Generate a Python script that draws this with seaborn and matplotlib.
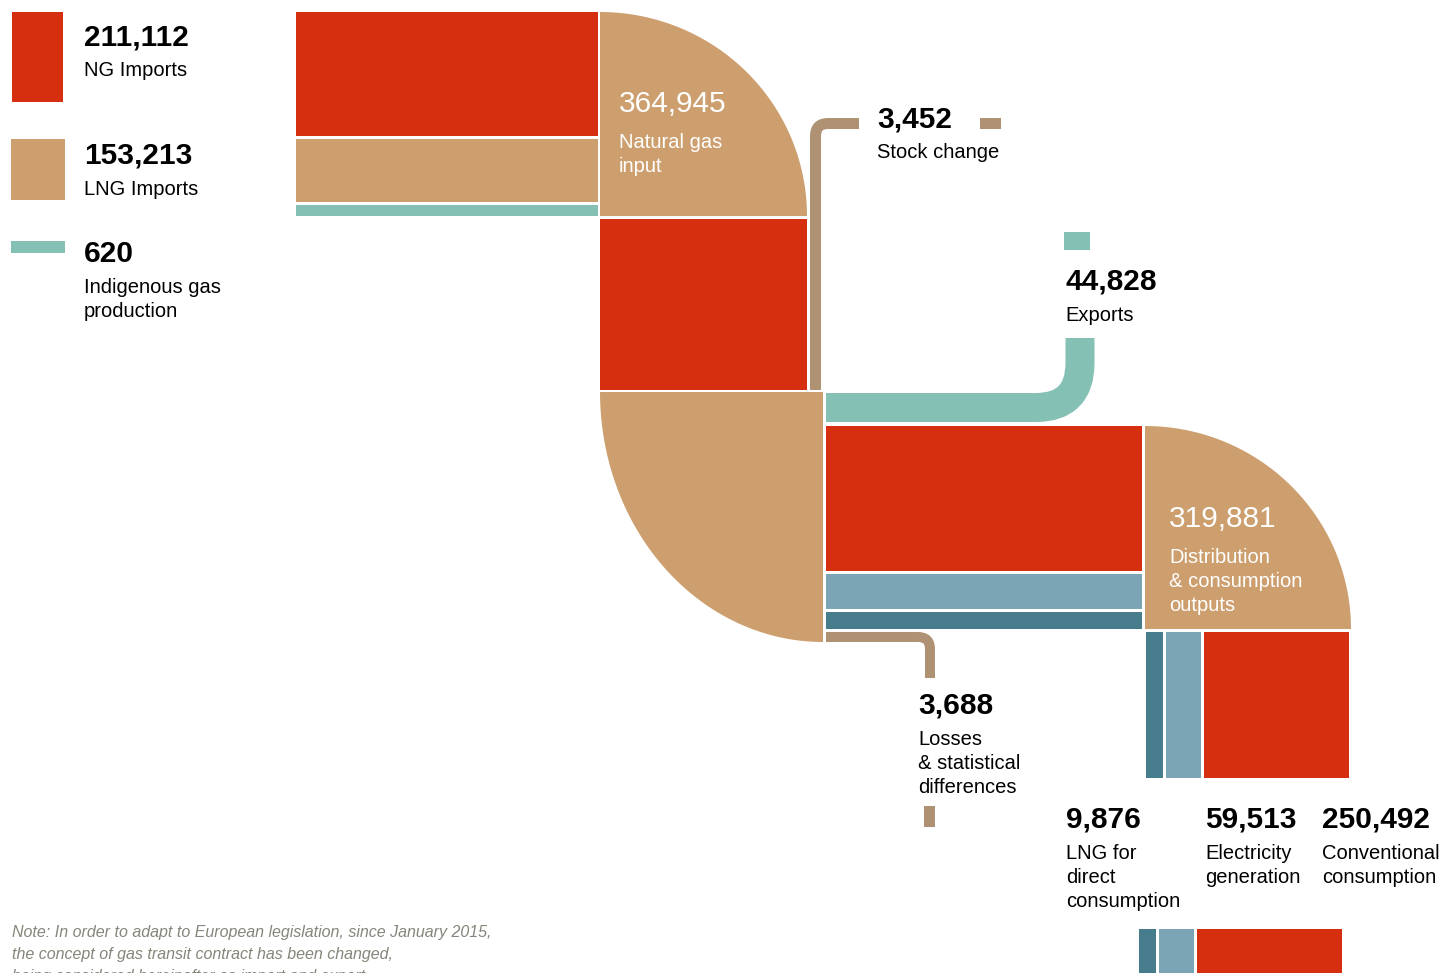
"""
    Natural gas balance diagram (input -> distribution & consumption outputs)
"""
import numpy as np
import matplotlib.pyplot as plt
from matplotlib.patches import Rectangle, Polygon, PathPatch
from matplotlib.path import Path
import seaborn as sns

# ---- data -------------------------------------------------------------------
input_values = [211112, 153213, 620]
input_labels = ["NG Imports", "LNG Imports", "Indigenous gas\nproduction"]
total_input = 364945
total_input_label = "Natural gas\ninput"
stock_change = 3452
stock_label = "Stock change"
exports = 44828
exports_label = "Exports"
losses = 3688
losses_label = "Losses\n& statistical\ndifferences"
total_output = 319881
total_output_label = "Distribution\n& consumption\noutputs"
output_values = [9876, 59513, 250492]
output_labels = ["LNG for\ndirect\nconsumption", "Electricity\ngeneration", "Conventional\nconsumption"]
note_lines = [
    "Note: In order to adapt to European legislation, since January 2015,",
    "the concept of gas transit contract has been changed,",
    "being considered hereinafter as import and export.",
]

# ---- style ------------------------------------------------------------------
RED = "#d52f10"
TAN = "#cd9f6f"
TEAL = "#84c0b4"
TAUPE = "#af9274"
LBLUE = "#7ba4b4"
DTEAL = "#467c8c"
NOTE_C = "#85857a"
input_colors = [RED, TAN, TEAL]
output_colors = [DTEAL, LBLUE, RED]

NUM_SIZE = 21.5     # bold numbers
LAB_SIZE = 14.5     # labels
LINE_PX = 24        # label line spacing, pixels
DPI = 100

sns.set_theme(style="white")
plt.rcParams['font.family'] = ['Liberation Sans', 'DejaVu Sans']


def fmt(v):
    return f"{v:,}"


def rect(ax, x0, y0, x1, y1, color):
    ax.add_patch(Rectangle((x0, y0), x1 - x0, y1 - y0, facecolor=color, edgecolor="none"))


def quarter(ax, cx, cy, rx, ry, sx, sy, color):
    # sx, sy: direction of the arc's quadrant (+1/-1), y grows downward
    t = np.linspace(0, np.pi / 2, 80)
    pts = [(cx, cy)] + [(cx + sx * rx * np.cos(a), cy + sy * ry * np.sin(a)) for a in t]
    ax.add_patch(Polygon(pts, closed=True, facecolor=color, edgecolor="none"))


def pipe(ax, verts, width_px, color):
    codes = [Path.MOVETO, Path.LINETO, Path.CURVE3, Path.CURVE3, Path.LINETO]
    ax.add_patch(PathPatch(Path(verts, codes), facecolor="none", edgecolor=color,
                           lw=width_px * 72 / DPI, capstyle="butt", joinstyle="round"))


def label(ax, x, y_num, num, text, color="black", num_weight="bold", gap=31):
    ax.text(x, y_num, num, fontsize=NUM_SIZE, fontweight=num_weight, color=color, va="baseline")
    for k, line in enumerate(text.split("\n")):
        ax.text(x, y_num + gap + k * LINE_PX, line, fontsize=LAB_SIZE, color=color, va="baseline")


fig = plt.figure(figsize=(14.48, 9.73), dpi=DPI)
ax = fig.add_axes([0, 0, 1, 1])
ax.set_xlim(0, 1448)
ax.set_ylim(973, 0)
ax.axis("off")

# ---- legend (inputs) ----------------------------------------------------------
legend_boxes = [(12, 12, 63, 102), (11, 139, 65, 200), (11, 241, 65, 253)]
legend_base = [45, 164, 262]
for (x0, y0, x1, y1), c, yb, v, lab in zip(legend_boxes, input_colors, legend_base,
                                          input_values, input_labels):
    rect(ax, x0, y0, x1, y1, c)
    label(ax, 84, yb, fmt(v), lab)

# ---- input stack + first quarter ---------------------------------------------
input_rows = [(12, 136), (139, 202), (205, 216)]
for (y0, y1), c in zip(input_rows, input_colors):
    rect(ax, 296, y0, 598, y1, c)
quarter(ax, 600, 216, 207, 204, 1, -1, TAN)
label(ax, 619, 112, fmt(total_input), total_input_label, color="white",
      num_weight="normal", gap=36)

rect(ax, 600, 219, 807, 390, RED)

# stock change
pipe(ax, [(815.5, 390), (815.5, 136), (815.5, 123.5), (828, 123.5), (859, 123.5)], 11, TAUPE)
rect(ax, 980, 118, 1001, 129, TAUPE)
label(ax, 877, 127, fmt(stock_change), stock_label)

# lower quarter
quarter(ax, 823, 392, 223, 250, -1, 1, TAN)

# exports
pipe(ax, [(826, 407.5), (1036, 407.5), (1080, 407.5), (1080, 363), (1080, 338)], 29, TEAL)
rect(ax, 1064, 232, 1090, 250, TEAL)
label(ax, 1065, 290, fmt(exports), exports_label)

# middle strip
mid_rows = [(426, 571), (574, 609), (612, 629)]
for (y0, y1), c in zip(mid_rows, [RED, LBLUE, DTEAL]):
    rect(ax, 826, y0, 1142, y1, c)

# losses
pipe(ax, [(826, 637), (918, 637), (930, 637), (930, 649), (930, 678)], 10, TAUPE)
rect(ax, 924, 806, 935, 827, TAUPE)
label(ax, 918, 714, fmt(losses), losses_label)

# output quarter
quarter(ax, 1145, 629, 206, 203, 1, -1, TAN)
label(ax, 1169, 527, fmt(total_output), total_output_label, color="white",
      num_weight="normal", gap=36)

# outputs
out_cols = [(1146, 1163), (1166, 1201), (1204, 1349)]
out_marks = [(1139, 1156), (1159, 1194), (1197, 1342)]
out_text_x = [1066, 1205, 1322]
for (x0, x1), (m0, m1), c, tx, v, lab in zip(out_cols, out_marks, output_colors,
                                              out_text_x, output_values, output_labels):
    rect(ax, x0, 632, x1, 778, c)
    rect(ax, m0, 929, m1, 973, c)
    label(ax, tx, 828, fmt(v), lab)

# note (third line runs off the bottom edge, as in the original page crop)
for k, line in enumerate(note_lines):
    ax.text(12, 937 + k * 22, line, fontsize=11.5, style="italic", color=NOTE_C,
            va="baseline", family=['Liberation Sans', 'DejaVu Sans'])

plt.savefig("out.png", dpi=DPI)
plt.close()
